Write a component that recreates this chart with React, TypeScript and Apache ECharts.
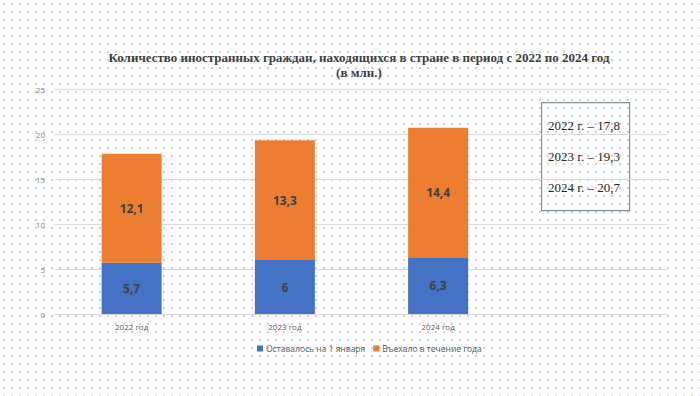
import React, { useEffect, useRef } from "react";
import * as echarts from "echarts";

const categories = ["2022 год", "2023 год", "2024 год", ""];
const years = ["2022", "2023", "2024"];
const remained = [5.7, 6, 6.3];
const arrived = [12.1, 13.3, 14.4];
const yTicks = { min: 0, max: 25, interval: 5 };
const seriesNames = ["Оставалось на 1 января", "Въехало в течение года"];
const titleLines = [
  "Количество иностранных граждан, находящихся в стране в период с 2022 по 2024 год",
  "(в млн.)",
];

const fmt = (v: number) => String(v).replace(".", ",");

export default function App() {
  const ref = useRef<HTMLDivElement>(null);
  useEffect(() => {
    if (!ref.current) return;
    const chart = echarts.init(ref.current, null, { renderer: "svg" });
    const totals = remained.map((r, i) => (r + arrived[i]).toFixed(1).replace(".", ","));
    const labelStyle = {
      show: true,
      position: "inside",
      color: "#404040",
      fontWeight: "bold",
      fontSize: 12,
      fontFamily: "Open Sans",
      formatter: (p: any) => fmt(p.value),
    };
    chart.setOption({
      animation: false,
      backgroundColor: "transparent",
      title: {
        text: titleLines.join("\n"),
        left: 354,
        textAlign: "center",
        top: 45,
        textStyle: {
          fontFamily: "Liberation Serif",
          fontWeight: "bold",
          fontSize: 13,
          color: "#404040",
          lineHeight: 15,
        },
      },
      legend: {
        left: 252,
        top: 339,
        itemWidth: 6,
        itemHeight: 6,
        itemGap: 8,
        icon: "rect",
        textStyle: { fontSize: 8.5, color: "#595959", fontFamily: "Open Sans", padding: [0, 0, 0, -2] },
        data: seriesNames,
      },
      grid: { left: 55, right: 32, top: 89, bottom: 82 },
      xAxis: {
        type: "category",
        data: categories,
        axisLine: { lineStyle: { color: "#d9d9d9" } },
        axisTick: { show: false },
        axisLabel: { color: "#595959", fontSize: 8, fontFamily: "Open Sans", margin: 8 },
      },
      yAxis: {
        type: "value",
        min: yTicks.min,
        max: yTicks.max,
        interval: yTicks.interval,
        axisLine: { show: false },
        axisTick: { show: false },
        splitLine: { lineStyle: { color: "#d9d9d9" } },
        axisLabel: { color: "#7f7f7f", fontSize: 8, fontFamily: "Open Sans", margin: 10 },
      },
      series: [
        {
          name: seriesNames[0],
          type: "bar",
          stack: "t",
          barWidth: 60,
          data: remained,
          itemStyle: { color: "#4472C4" },
          label: labelStyle,
        },
        {
          name: seriesNames[1],
          type: "bar",
          stack: "t",
          barWidth: 60,
          data: arrived,
          itemStyle: { color: "#ED7D31" },
          label: labelStyle,
        },
      ],
      graphic: [
        {
          type: "rect",
          left: 541,
          top: 102,
          shape: { width: 88, height: 108 },
          style: { fill: "transparent", stroke: "#7f8aa8", lineWidth: 1.2 },
        },
        ...years.map((y, i) => ({
          type: "text",
          left: 548,
          top: 119 + i * 31,
          style: {
            text: `${y} г. – ${totals[i]}`,
            font: "13px 'Liberation Serif'",
            fill: "#262626",
          },
        })),
      ],
    });
    return () => chart.dispose();
  }, []);
  return (
    <div
      style={{
        position: "absolute",
        left: 0,
        top: 0,
        width: 700,
        height: 396,
        backgroundColor: "#ffffff",
        backgroundImage: "radial-gradient(circle, #c6cee8 0.8px, transparent 1.2px)",
        backgroundSize: "8px 8px",
        backgroundPosition: "0px 0px",
      }}
    >
      <div ref={ref} style={{ width: 700, height: 396 }} />
    </div>
  );
}
